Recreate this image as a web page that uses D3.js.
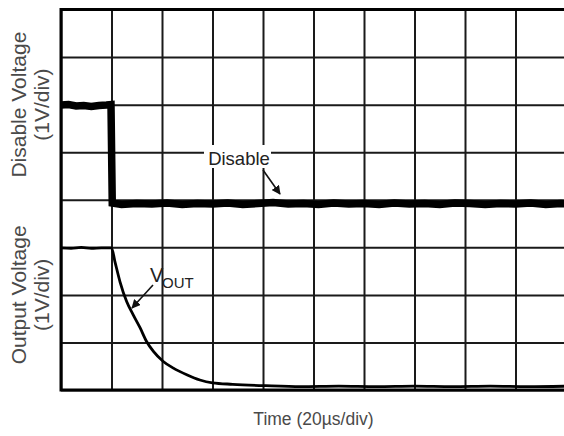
<!DOCTYPE html>
<html>
<head>
<meta charset="utf-8">
<script src="https://cdn.jsdelivr.net/npm/d3@7"></script>
<style>
  body { margin: 0; background: #fff; }
  svg { display: block; font-family: Arial, "Liberation Sans", sans-serif; }
  .label { fill: #4a4a4a; }
</style>
</head>
<body>
<div id="chart"></div>
<script>
// Scope settings: 10 time divisions, 8 vertical divisions (two channels, 4 div each)
const timeDivs = d3.range(0, 201, 20);   // µs, 20µs/div
const voltDivs = d3.range(0, 9, 1);      // divisions, 1V/div

// Disable channel (volts, zero reference on the 4th division)
const disableTime = [0, 3, 6, 9, 12, 15, 18, 19.8, 20.3, 24, 30, 36, 42, 48, 54, 60, 66, 72, 78, 84, 90, 96,
  102, 108, 114, 120, 126, 132, 138, 144, 150, 156, 162, 168, 174, 180, 186, 192, 198, 200];
const disableVolt = [1.99, 2.0, 1.97, 1.98, 1.96, 1.98, 1.99, 2.0, -0.07, -0.1, -0.08, -0.09, -0.07, -0.1, -0.08, -0.09, -0.07,
  -0.1, -0.08, -0.06, -0.09, -0.08, -0.1, -0.07, -0.09, -0.08, -0.1, -0.07, -0.09, -0.08, -0.1, -0.07, -0.08,
  -0.1, -0.08, -0.09, -0.07, -0.1, -0.08, -0.09];

// Output voltage channel (volts, zero reference on the bottom division)
const voutTime = [0, 4, 8, 12, 16, 20, 21.4, 23.4, 26.0, 28.6, 31.3, 33.9, 36.6, 40.5, 44.5, 49.8, 55, 60, 68, 81,
  95, 110, 125, 140, 155, 170, 185, 200];
const voutVolt = [2.99, 2.98, 3.0, 2.98, 2.99, 2.99, 2.69, 2.27, 1.86, 1.58, 1.31, 1.02, 0.81, 0.60, 0.46, 0.32, 0.21,
  0.15, 0.12, 0.09, 0.07, 0.08, 0.07, 0.08, 0.07, 0.08, 0.07, 0.08];

const width = 564, height = 436;
const margin = {top: 9.5, right: -2, bottom: 46, left: 61};
const disableOffset = 4, voutOffset = 0;

const svg = d3.select('#chart').append('svg')
  .attr('width', width).attr('height', height);

const x = d3.scaleLinear([0, 200], [margin.left, width - margin.right]);
const y = d3.scaleLinear([0, 8], [height - margin.bottom, margin.top]);

const defs = svg.append('defs');
defs.append('marker')
  .attr('id', 'arrow').attr('viewBox', '0 0 10 10')
  .attr('refX', 9).attr('refY', 5)
  .attr('markerWidth', 9).attr('markerHeight', 9)
  .attr('markerUnits', 'userSpaceOnUse')
  .attr('orient', 'auto')
  .append('path').attr('d', 'M0,0 L10,5 L0,10 z').attr('fill', '#111');

// grid via axes with full-length ticks
svg.append('g')
  .attr('transform', `translate(0,${y(0)})`)
  .call(d3.axisBottom(x).tickValues(timeDivs).tickSize(-(y(0) - y(8))).tickFormat(''));
svg.append('g')
  .attr('transform', `translate(${x(0)},0)`)
  .call(d3.axisLeft(y).tickValues(voltDivs).tickSize(-(x(200) - x(0))).tickFormat(''));
svg.selectAll('.domain').remove();
svg.selectAll('.tick line').attr('stroke', '#1a1a1a').attr('stroke-width', 2);

// frame
svg.append('rect')
  .attr('x', x(0)).attr('y', y(8))
  .attr('width', x(200) - x(0)).attr('height', y(0) - y(8))
  .attr('fill', 'none').attr('stroke', '#000').attr('stroke-width', 3);

// traces
const disableData = disableTime.map((t, i) => [t, disableVolt[i] + disableOffset]);
const voutData = voutTime.map((t, i) => [t, voutVolt[i] + voutOffset]);
const line = d3.line().x(d => x(d[0])).y(d => y(d[1]));

svg.append('path').datum(disableData)
  .attr('d', line).attr('fill', 'none')
  .attr('stroke', '#000').attr('stroke-width', 7.5).attr('stroke-linejoin', 'miter');
svg.append('path').datum(voutData)
  .attr('d', line.curve(d3.curveMonotoneX)).attr('fill', 'none')
  .attr('stroke', '#000').attr('stroke-width', 2.8);

// Disable annotation
svg.append('rect').attr('x', 204).attr('y', 145).attr('width', 67).attr('height', 23).attr('fill', '#fff');
svg.append('text').attr('x', 239).attr('y', 165).attr('text-anchor', 'middle')
  .style('font-size', '18.5px').attr('fill', '#222').text('Disable');
svg.append('line').attr('x1', 263).attr('y1', 170).attr('x2', 280).attr('y2', 194)
  .attr('stroke', '#111').attr('stroke-width', 1.6).attr('marker-end', 'url(#arrow)');

// VOUT annotation
svg.append('text').attr('x', 150).attr('y', 282).style('font-size', '20px').attr('fill', '#222').text('V');
svg.append('text').attr('x', 162).attr('y', 288).style('font-size', '15px').attr('fill', '#222').text('OUT');
svg.append('line').attr('x1', 153).attr('y1', 285).attr('x2', 132).attr('y2', 308)
  .attr('stroke', '#111').attr('stroke-width', 1.6).attr('marker-end', 'url(#arrow)');

// axis labels
const yLabel = (cy, lines) => {
  const g = svg.append('g').attr('transform', `translate(0,${cy}) rotate(-90)`);
  g.append('text').attr('class', 'label').attr('x', 0).attr('y', 26)
    .attr('text-anchor', 'middle').style('font-size', '21px').text(lines[0]);
  g.append('text').attr('class', 'label').attr('x', 0).attr('y', 49)
    .attr('text-anchor', 'middle').style('font-size', '21px').text(lines[1]);
};
yLabel((y(8) + y(4)) / 2, ['Disable Voltage', '(1V/div)']);
yLabel((y(4) + y(0)) / 2, ['Output Voltage', '(1V/div)']);

svg.append('text').attr('class', 'label')
  .attr('x', (x(0) + x(200)) / 2).attr('y', 425)
  .attr('text-anchor', 'middle').style('font-size', '17.5px')
  .text('Time (20\u00b5s/div)');
</script>
</body>
</html>
